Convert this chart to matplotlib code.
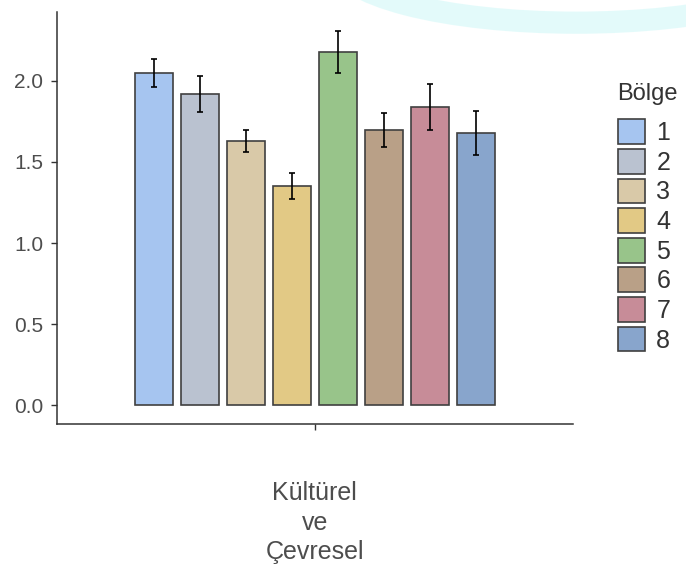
import numpy as np
import matplotlib
matplotlib.use("Agg")
import matplotlib.pyplot as plt
from matplotlib.patches import Patch, Ellipse

plt.rcParams['font.family'] = ['Liberation Sans', 'DejaVu Sans']

category = "Kültürel\nve\nÇevresel"
regions = ['1', '2', '3', '4', '5', '6', '7', '8']
means = [2.05, 1.92, 1.63, 1.35, 2.18, 1.70, 1.84, 1.68]
errors = [0.086, 0.11, 0.07, 0.08, 0.13, 0.105, 0.14, 0.135]
colors = ['#a6c5f0', '#bac2d0', '#d9c9a8', '#e2c985', '#98c48a',
          '#b9a087', '#c78c98', '#88a5cc']

fig = plt.figure(figsize=(6.86, 5.67), dpi=100)

# faint cyan arc in the top right corner of the reference
fig.patches.append(Ellipse((0.84, 1.07), 0.70, 0.22, transform=fig.transFigure,
                           facecolor='none', edgecolor='#c9f7f7', lw=16, alpha=0.5))

ax = fig.add_axes([0.083, 0.252, 0.752, 0.727])

pitch = 0.107
width = 0.088
xs = 1 + (np.arange(len(regions)) - 3.5) * pitch
ax.bar(xs, means, width=width, color=colors, edgecolor='#404040', linewidth=1.2)
ax.errorbar(xs, means, yerr=errors, fmt='none', ecolor='black',
            elinewidth=1.2, capsize=2.5, capthick=1.2)

ax.set_xlim(0.4, 1.6)
ax.set_ylim(-0.1155, 2.425)
ax.set_xticks([1])
ax.set_xticklabels([category], fontsize=18, color='#4d4d4d', linespacing=1.3)
ax.set_yticks([0, 0.5, 1.0, 1.5, 2.0])
ax.set_yticklabels(['0.0', '0.5', '1.0', '1.5', '2.0'], fontsize=15, color='#4d4d4d')
ax.tick_params(axis='both', length=4, width=1, color='#333333')
ax.tick_params(axis='y', pad=6)
ax.tick_params(axis='x', pad=37)
for s in ['top', 'right']:
    ax.spines[s].set_visible(False)
for s in ['left', 'bottom']:
    ax.spines[s].set_color('#333333')
    ax.spines[s].set_linewidth(1.1)

handles = [Patch(facecolor=c, edgecolor='#404040', linewidth=1.2) for c in colors]
leg = fig.legend(handles, regions, title='Bölge', loc='upper left',
                 bbox_to_anchor=(0.882, 0.875), frameon=False, fontsize=18,
                 title_fontsize=17, handlelength=1.1, handleheight=1.15,
                 labelspacing=0.15, handletextpad=0.45, borderpad=0,
                 alignment='left')
leg._legend_box.sep = 10
for t in leg.get_texts():
    t.set_color('#333333')
leg.get_title().set_color('#333333')

fig.savefig('out.png', dpi=100)
